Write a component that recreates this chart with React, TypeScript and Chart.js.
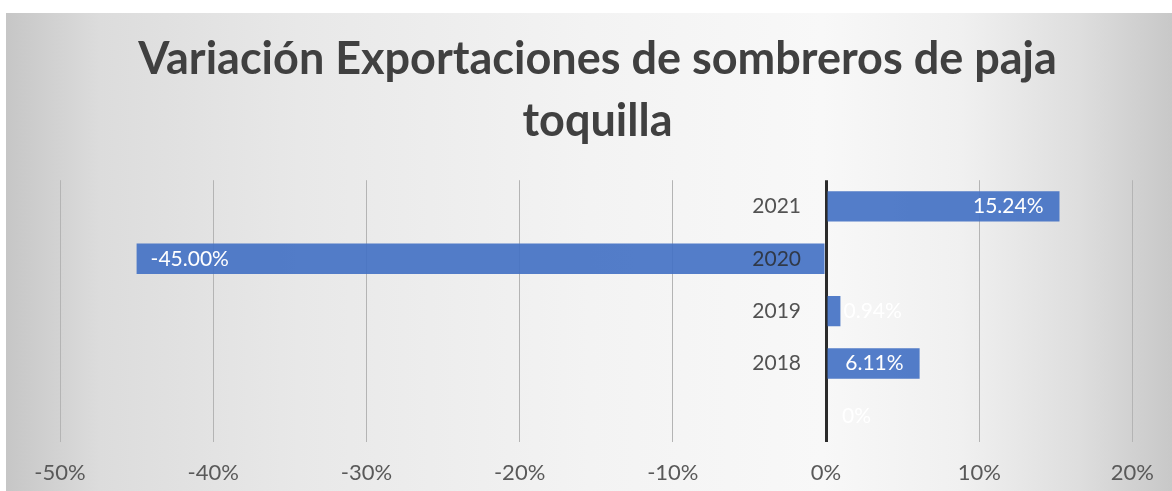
import React, { useEffect, useRef } from 'react';
import { Chart, registerables } from 'chart.js';

Chart.register(...registerables);

const TITLE_LINES = ['Variación Exportaciones de sombreros de paja', 'toquilla'];
const CATEGORIES = ['2021', '2020', '2019', '2018', ''];
const VARIATION = [15.24, -45.0, 0.94, 6.11, 0];
const VALUE_LABELS = ['15.24%', '-45.00%', '0.94%', '6.11%', '0%'];
const X_MIN = -50;
const X_MAX = 20;
const X_STEP = 10;

const FONT = 'Lato, "Open Sans", sans-serif';

export default function App() {
  const ref = useRef<HTMLCanvasElement>(null);

  useEffect(() => {
    const canvas = ref.current;
    if (!canvas) return;

    const categoryLabels = {
      id: 'categoryLabels',
      afterDatasetsDraw(chart: any) {
        const { ctx, scales } = chart;
        const x0 = scales.x.getPixelForValue(0);
        ctx.save();
        ctx.font = `21px ${FONT}`;
        ctx.fillStyle = 'rgba(40,40,40,0.8)';
        ctx.textAlign = 'right';
        ctx.textBaseline = 'middle';
        CATEGORIES.forEach((c, i) => {
          ctx.fillText(c, x0 - 25, scales.y.getPixelForValue(i));
        });
        ctx.restore();
      },
    };

    const valueLabels = {
      id: 'valueLabels',
      afterDatasetsDraw(chart: any) {
        const { ctx } = chart;
        const meta = chart.getDatasetMeta(0);
        ctx.save();
        ctx.font = `21px ${FONT}`;
        ctx.fillStyle = '#ffffff';
        ctx.textBaseline = 'middle';
        meta.data.forEach((el: any, i: number) => {
          const text = VALUE_LABELS[i];
          const w = ctx.measureText(text).width;
          if (VARIATION[i] < 0) {
            ctx.textAlign = 'left';
            ctx.fillText(text, el.x + 14, el.y);
          } else {
            const right = el.x - 16;
            if (right - w < el.base + 16) {
              ctx.textAlign = 'left';
              ctx.fillText(text, el.base + 16, el.y);
            } else {
              ctx.textAlign = 'right';
              ctx.fillText(text, right, el.y);
            }
          }
        });
        ctx.restore();
      },
    };

    const chart = new Chart(canvas, {
      type: 'bar',
      data: {
        labels: CATEGORIES,
        datasets: [
          {
            data: VARIATION,
            backgroundColor: 'rgba(68,114,196,0.92)',
            borderWidth: 0,
            categoryPercentage: 1,
            barPercentage: 0.58,
          },
        ],
      },
      options: {
        indexAxis: 'y',
        animation: false,
        responsive: false,
        layout: { padding: { left: 54, right: 37, top: 0, bottom: 5 } },
        plugins: {
          legend: { display: false },
          tooltip: { enabled: false },
          title: {
            display: true,
            text: TITLE_LINES,
            color: '#404040',
            font: { family: FONT, size: 45, weight: 'bold', lineHeight: 1.38 },
            padding: { top: 15.5, bottom: 27.5 },
          },
        },
        scales: {
          x: {
            min: X_MIN,
            max: X_MAX,
            border: { display: false },
            afterFit: (scale: any) => {
              scale.height = 44;
            },
            grid: {
              drawTicks: false,
              color: (c: any) => (c.tick && c.tick.value === 0 ? '#2b2b2b' : '#b4b4b4'),
              lineWidth: (c: any) => (c.tick && c.tick.value === 0 ? 3 : 1),
            },
            ticks: {
              stepSize: X_STEP,
              padding: 18,
              color: '#595959',
              font: { family: FONT, size: 22 },
              callback: (v: any) => `${v}%`,
            },
          },
          y: {
            display: false,
          },
        },
      },
      plugins: [categoryLabels, valueLabels],
    });

    return () => chart.destroy();
  }, []);

  return (
    <div
      style={{
        position: 'absolute',
        left: 6,
        top: 13,
        width: 1166,
        height: 478,
        background:
          'linear-gradient(to right, #c6c6c6 0%, #dcdcdc 8%, #e8e8e8 25%, #f3f3f3 50%, #f8f8f8 70%, #f0f0f0 82%, #dedede 92%, #c8c8c8 100%)',
      }}
    >
      <canvas ref={ref} width={1166} height={478} style={{ display: 'block' }} />
    </div>
  );
}
